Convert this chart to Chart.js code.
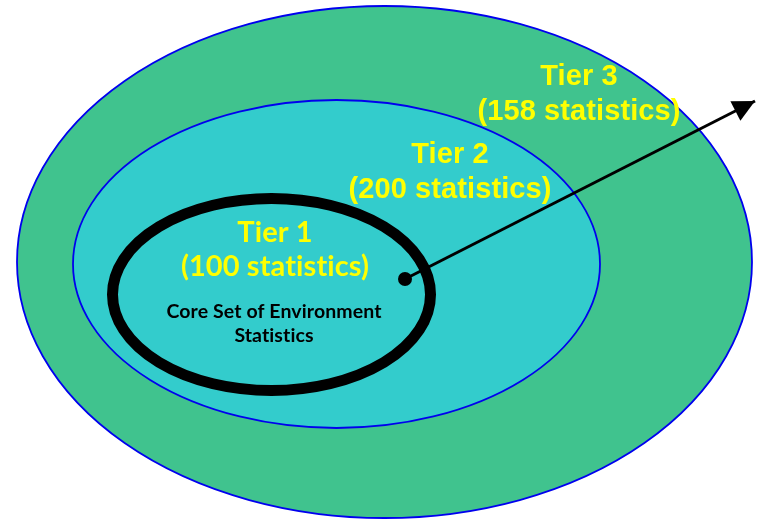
<!DOCTYPE html>
<html><head><meta charset="utf-8">
<script src="https://cdn.jsdelivr.net/npm/chart.js@4"></script>
<style>html,body{margin:0;padding:0;background:#fff}#wrap{width:757px;height:520px;position:relative}</style>
</head><body><div id="wrap"><canvas id="c" width="757" height="520"></canvas></div>
<script>
// ---- data ----
const tierNames = ['Tier 1', 'Tier 2', 'Tier 3'];
const statCounts = [100, 200, 158];
const coreLabel = ['Core Set of Environment', 'Statistics'];

// ---- layout (data units of the hidden scales) ----
const ellipses = [ // drawn outer -> inner
  {cx: 384.5, cy: 262, rx: 367.5, ry: 256, fill: '#40C38E', stroke: '#0000EE', lw: 1.8},
  {cx: 336.5, cy: 264, rx: 263.5, ry: 164, fill: '#33CCCC', stroke: '#0000EE', lw: 1.8},
  {cx: 271.5, cy: 294.5, rx: 159, ry: 96, fill: '#33CCCC', stroke: '#000000', lw: 11}
];
const arrowPts = [{x: 405, y: 279}, {x: 755, y: 101}];
const tierLabelPos = [ // index matches tierNames
  {x: 275, y1: 242, y2: 276, font: 'bold 29px Lato'},
  {x: 450, y1: 163, y2: 198, font: 'bold 29px "Liberation Sans", Arial'},
  {x: 579, y1: 85, y2: 120, font: 'bold 29px "Liberation Sans", Arial'}
];
const corePos = {x: 274, y1: 318, y2: 342, font: 'bold 19.5px Lato'};

const diagramPlugin = {
  id: 'diagram',
  beforeDatasetsDraw(chart) {
    const {ctx, scales: {x, y}} = chart;
    ctx.save();
    ellipses.forEach(e => {
      const px = x.getPixelForValue(e.cx), py = y.getPixelForValue(e.cy);
      const rx = Math.abs(x.getPixelForValue(e.cx + e.rx) - px);
      const ry = Math.abs(y.getPixelForValue(e.cy + e.ry) - py);
      ctx.beginPath();
      ctx.ellipse(px, py, rx, ry, 0, 0, Math.PI * 2);
      ctx.fillStyle = e.fill; ctx.fill();
      ctx.lineWidth = e.lw; ctx.strokeStyle = e.stroke; ctx.stroke();
    });
    ctx.restore();
  },
  afterDatasetsDraw(chart) {
    const {ctx, scales: {x, y}} = chart;
    ctx.save();
    // arrow head
    const a = arrowPts[0], b = arrowPts[1];
    const ax = x.getPixelForValue(a.x), ay = y.getPixelForValue(a.y);
    const bx = x.getPixelForValue(b.x), by = y.getPixelForValue(b.y);
    const ang = Math.atan2(by - ay, bx - ax);
    const L = 22, W = 11;
    ctx.beginPath();
    ctx.moveTo(bx, by);
    ctx.lineTo(bx - L * Math.cos(ang) + W * Math.sin(ang), by - L * Math.sin(ang) - W * Math.cos(ang));
    ctx.lineTo(bx - L * Math.cos(ang) - W * Math.sin(ang), by - L * Math.sin(ang) + W * Math.cos(ang));
    ctx.closePath();
    ctx.fillStyle = '#000'; ctx.fill();
    // labels
    ctx.textAlign = 'center'; ctx.textBaseline = 'alphabetic';
    if ('letterSpacing' in ctx) ctx.letterSpacing = '0.1px'; // avoid Lato "ti" ligatures
    tierNames.forEach((name, i) => {
      const p = tierLabelPos[i];
      ctx.font = p.font; ctx.fillStyle = '#FFFF00';
      const l2 = '(' + statCounts[i] + ' statistics)';
      ctx.fillText(name, x.getPixelForValue(p.x), y.getPixelForValue(p.y1));
      ctx.fillText(l2, x.getPixelForValue(p.x), y.getPixelForValue(p.y2));
    });
    ctx.font = corePos.font; ctx.fillStyle = '#000';
    ctx.fillText(coreLabel[0], x.getPixelForValue(corePos.x), y.getPixelForValue(corePos.y1));
    ctx.fillText(coreLabel[1], x.getPixelForValue(corePos.x), y.getPixelForValue(corePos.y2));
    ctx.restore();
  }
};

new Chart(document.getElementById('c'), {
  type: 'scatter',
  data: {
    datasets: [{
      data: arrowPts,
      showLine: true,
      borderColor: '#000',
      backgroundColor: '#000',
      borderWidth: 3,
      pointRadius: [7, 0],
      pointHoverRadius: [7, 0],
      pointBorderWidth: 0,
      clip: false
    }]
  },
  options: {
    responsive: false,
    animation: false,
    events: [],
    layout: {padding: 0, autoPadding: false},
    plugins: {legend: {display: false}, tooltip: {enabled: false}},
    scales: {
      x: {type: 'linear', min: 0, max: 757, display: false},
      y: {type: 'linear', min: 0, max: 520, reverse: true, display: false}
    }
  },
  plugins: [diagramPlugin]
});
</script>
</body></html>
